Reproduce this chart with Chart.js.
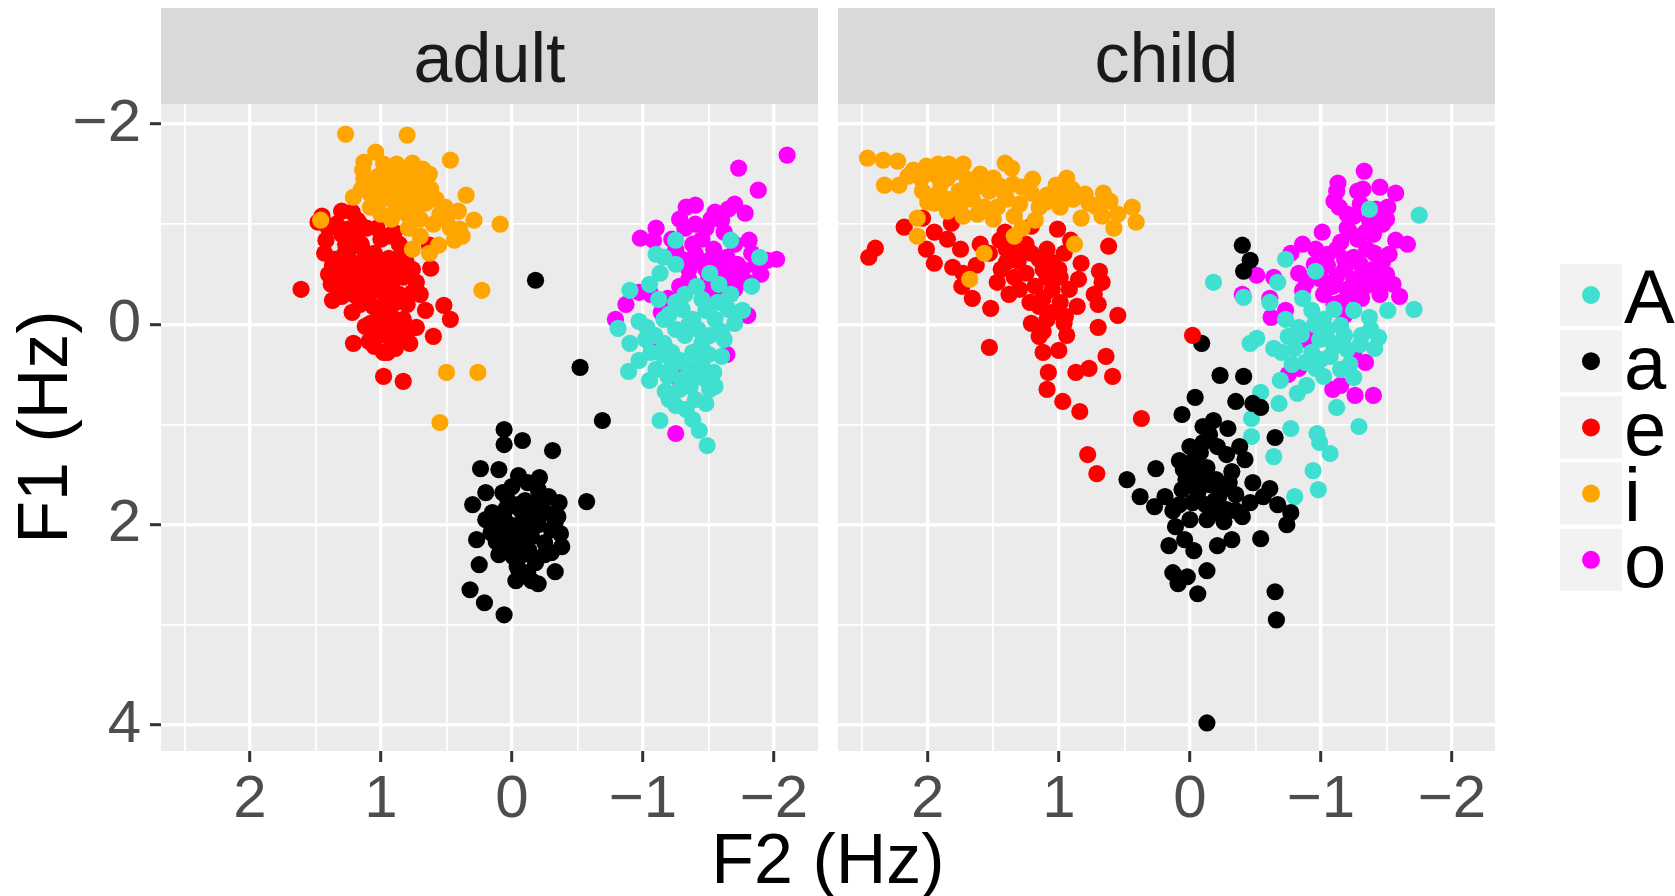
<!DOCTYPE html>
<html>
<head>
<meta charset="utf-8">
<script src="https://cdn.jsdelivr.net/npm/chart.js@4.4.1/dist/chart.umd.min.js"></script>
<style>
  body { margin: 0; background: #fff; }
  canvas { position: absolute; left: 0; top: 0; }
</style>
</head>
<body>
<canvas id="adult" width="1675" height="896"></canvas>
<canvas id="child" width="1675" height="896"></canvas>
<script>
'use strict';

// facets, vowels and colours
const facets = ['adult', 'child'];
const vowels = ['A', 'a', 'e', 'i', 'o'];
const vowelColors = ['#40E0D0', '#000000', '#FF0000', '#FFA500', '#FF00FF'];

// axis breaks: labelled majors, unlabelled minors
const xMajor = [2, 1, 0, -1, -2];
const xMinor = [2.5, 1.5, 0.5, -0.5, -1.5];
const yMajor = [-2, 0, 2, 4];
const yMinor = [-1, 1, 3];

// adult points [F2, F1]
const adult_A = [[-0.81,0.04],[-0.90,-0.34],[-0.90,0.19],[-0.89,0.47],[-1.05,0.56],[-1.13,0.96],[-1.25,0.81],[-1.43,1.06],[-1.49,1.21],[-1.48,0.79],[-1.51,0.65],[-1.17,0.67],[-1.19,0.52],[-1.25,-0.84],[-1.16,-0.67],[-1.13,-0.51],[-1.67,-0.84],[-0.97,-0.03],[-1.03,0.03],[-1.09,0.11],[-1.16,0.19],[-1.22,0.28],[-1.28,0.36],[-1.35,0.44],[-1.41,0.52],[-1.54,0.48],[-1.60,0.32],[-1.32,0.11],[-1.38,-0.05],[-1.48,-0.14],[-1.57,-0.22],[-1.67,-0.30],[-1.70,-0.01],[-1.76,-0.14],[-1.25,-0.22],[-1.32,-0.30],[-1.41,-0.38],[-1.51,-0.51],[-1.83,-0.38],[-1.89,-0.67],[-0.97,0.36],[-1.06,0.28],[-1.45,0.19],[-1.51,0.11],[-1.28,0.65],[-1.60,0.07],[-1.16,-0.05],[-1.38,0.28],
    [-1.15,0.30],[-1.22,0.42],[-1.30,0.55],[-1.36,0.62],[-1.45,0.40],[-1.50,0.30],[-1.42,0.05],[-1.35,0.00],[-1.25,0.05],[-1.20,-0.10],[-1.30,-0.15],[-1.45,-0.25],[-1.55,-0.05],[-1.62,0.15],[-1.40,0.75],[-1.33,0.85],[-1.20,0.75],[-1.10,0.45],[-1.02,0.15],[-1.12,-0.25],[-1.05,-0.40],[-1.58,-0.40],[-1.65,-0.15],[-1.48,0.55],[-1.55,0.62],[-1.38,0.95],[-1.10,-0.70],[-1.25,-0.60]];
const adult_a = [[-0.18,-0.44],[-0.52,0.43],[-0.69,0.96],[-0.57,1.77],[0.06,1.05],[0.06,1.20],[-0.08,1.16],[-0.31,1.26],[0.24,1.44],[0.10,1.45],[-0.05,1.51],[-0.21,1.53],[0.20,1.68],[0.30,1.80],[-0.20,1.65],[-0.36,1.78],[0.15,1.88],[0.03,1.76],[-0.07,1.86],[-0.17,1.93],[-0.26,1.88],[-0.33,1.97],[0.12,2.01],[-0.01,2.01],[-0.10,2.09],[0.03,2.13],[0.27,2.15],[0.12,2.17],[-0.37,2.09],[-0.38,2.22],[-0.25,2.30],[-0.13,2.26],[-0.01,2.32],[-0.04,2.42],[0.25,2.40],[-0.33,2.47],[-0.03,2.56],[-0.20,2.59],[-0.15,2.56],[0.32,2.65],[0.21,2.78],[0.06,2.90],[0.07,1.68],[-0.10,1.76],[0.06,1.93],[-0.20,1.76],[-0.13,1.97],[-0.04,2.17],[0.06,2.26],
    [-0.05,1.80],[0.05,1.85],[0.10,1.95],[-0.12,1.82],[-0.22,1.90],[-0.30,2.05],[-0.20,2.00],[-0.08,1.98],[0.02,2.05],[0.16,2.08],[0.08,2.10],[-0.15,2.12],[-0.25,2.18],[-0.30,2.28],[-0.18,2.38],[-0.08,2.30],[0.00,2.22],[0.10,2.30],[-0.05,2.45],[-0.12,2.48],[0.20,1.95],[-0.35,1.92],[-0.28,1.72],[0.00,1.62],[-0.12,1.58]];
const adult_e = [[1.61,-0.35],[1.45,-1.08],[1.48,-1.02],[1.30,-1.13],[1.22,-1.12],[1.07,-1.30],[1.40,-0.96],[1.34,-1.00],[1.42,-0.84],[1.43,-0.71],[1.37,-0.59],[1.34,-0.38],[1.37,-0.24],[1.22,-0.12],[1.21,0.19],[1.09,0.17],[0.98,0.52],[0.83,0.57],[0.95,0.28],[0.89,0.24],[0.78,0.19],[0.60,0.12],[0.47,-0.05],[0.52,-0.19],[0.66,-0.14],[0.76,-0.32],[0.62,-0.56],[0.63,-0.79],[0.81,-0.63],[0.86,-0.80],[0.90,-0.92],[1.03,-0.96],[1.11,-0.96],[1.18,-0.84],[1.24,-0.75],[1.14,-0.63],[1.05,-0.71],[0.98,-0.55],[1.08,-0.47],[1.18,-0.51],[1.27,-0.55],[1.21,-0.30],[1.11,-0.26],[1.02,-0.34],[0.92,-0.38],[0.83,-0.47],[0.73,-0.42],[0.89,-0.22],[0.98,-0.14],[1.08,-0.01],[0.95,0.03],[0.83,-0.05],[0.73,0.03],[1.02,0.11],[0.89,0.11],[1.27,-0.80],[1.18,-1.04],[0.95,-0.88],[0.76,-0.55],[0.89,-0.55],[1.30,-0.47],[0.70,-0.30],[0.83,0.11],[0.98,0.28],
    [1.30,-0.90],[1.25,-0.95],[1.20,-0.90],[1.15,-0.80],[1.28,-0.70],[1.35,-0.65],[1.30,-0.60],[1.22,-0.62],[1.12,-0.72],[1.08,-0.60],[1.02,-0.62],[0.94,-0.66],[0.90,-0.45],[0.96,-0.42],[1.04,-0.44],[1.12,-0.40],[1.20,-0.42],[1.26,-0.35],[1.30,-0.28],[1.16,-0.20],[1.06,-0.18],[0.96,-0.25],[0.86,-0.30],[0.80,-0.20],[0.92,-0.08],[1.02,-0.06],[1.12,0.02],[0.86,0.00],[0.78,0.05],[0.92,0.18],[1.05,0.22],[1.40,-0.50],[1.38,-0.40],[1.16,-1.00],[1.00,-0.85],[0.84,-0.70]];
const adult_i = [[1.27,-1.90],[0.80,-1.89],[1.04,-1.72],[1.13,-1.62],[1.14,-1.54],[0.98,-1.60],[0.90,-1.54],[0.76,-1.61],[0.47,-1.64],[0.63,-1.50],[1.13,-1.45],[1.02,-1.48],[0.86,-1.44],[0.76,-1.39],[0.70,-1.31],[0.35,-1.29],[1.21,-1.27],[0.95,-1.33],[0.82,-1.29],[0.66,-1.21],[0.51,-1.17],[0.41,-1.13],[0.29,-1.04],[0.09,-1.00],[0.47,-0.96],[0.38,-0.88],[0.44,-0.84],[0.56,-0.79],[0.70,-0.88],[0.79,-0.96],[0.89,-1.13],[1.08,-1.17],[0.23,-0.34],[0.50,0.48],[0.26,0.48],[0.55,0.98],[1.46,-1.04],[0.76,-0.75],[0.63,-0.71],[0.95,-1.50],[0.88,-1.35],[0.75,-1.25],[0.85,-1.20],[0.92,-1.05],[1.00,-1.10],[0.70,-1.05],[0.60,-1.00],[0.55,-1.10],[0.80,-1.10],
    [0.98,-1.40],[1.05,-1.35],[0.72,-1.45],[0.68,-1.55],[0.82,-1.52],[0.92,-1.25],[1.08,-1.30],[1.15,-1.35],[0.62,-1.35],[0.58,-1.25],[0.50,-1.05],[0.40,-0.95],[0.72,-1.18],[1.02,-1.22],[0.88,-1.60]];
const adult_o = [[-2.10,-1.69],[-1.73,-1.56],[-1.88,-1.34],[-1.33,-1.17],[-1.40,-1.19],[-1.65,-1.15],[-1.78,-1.11],[-1.60,-1.04],[-1.10,-0.96],[-0.98,-0.86],[-1.08,-0.84],[-1.32,-0.96],[-1.48,-0.96],[-1.81,-0.84],[-1.25,-0.75],[-1.38,-0.80],[-1.54,-0.75],[-1.64,-0.67],[-1.95,-0.64],[-2.02,-0.65],[-1.86,-0.59],[-1.76,-0.55],[-1.67,-0.47],[-1.48,-0.55],[-1.35,-0.55],[-1.57,-0.38],[-1.45,-0.34],[-1.28,-0.38],[-0.97,-0.32],[-1.06,-0.30],[-1.19,-0.26],[-0.87,-0.20],[-0.79,-0.05],[-1.14,-0.12],[-1.80,-0.09],[-1.64,0.30],[-1.45,0.52],[-1.25,0.52],[-1.25,1.09],[-1.06,0.19],[-1.73,-0.47],[-1.45,-0.63],[-1.83,-0.71],[-1.54,-0.26],
    [-1.40,-1.00],[-1.52,-1.05],[-1.62,-0.92],[-1.70,-0.80],[-1.72,-0.60],[-1.60,-0.58],[-1.52,-0.65],[-1.40,-0.70],[-1.30,-0.65],[-1.22,-0.85],[-1.35,-0.45],[-1.62,-0.50],[-1.80,-0.42],[-1.90,-0.50],[-1.70,-0.35],[-1.50,-0.45],[-1.45,-0.85],[-1.55,-1.12],[-1.70,-1.20],[-1.28,-1.05]];

// child points [F2, F1]
const child_A = [[-0.18,-0.42],[-0.41,-0.27],[-0.46,0.19],[-0.51,0.14],[-0.54,0.68],[-0.47,0.94],[-0.47,1.12],[-0.64,1.32],[-0.68,0.79],[-0.77,1.04],[-0.80,1.72],[-0.94,1.46],[-0.98,1.65],[-0.97,1.09],[-0.99,1.18],[-1.07,1.29],[-1.29,1.02],[-1.12,0.83],[-1.25,0.53],[-0.69,0.56],[-0.82,0.69],[-0.89,0.61],[-0.64,0.24],[-0.70,0.28],[-0.80,0.24],[-0.93,0.28],[-0.99,0.15],[-1.09,0.19],[-1.07,0.32],[-0.96,0.44],[-1.18,0.11],[-1.31,0.11],[-1.44,0.13],[-1.41,0.24],[-1.37,-0.07],[-1.51,-0.14],[-1.71,-0.15],[-1.75,-1.09],[-1.37,-1.15],[-0.73,-0.65],[-0.96,-0.53],[-0.67,-0.42],[-0.61,-0.22],[-0.73,-0.05],[-0.83,0.03],[-0.93,-0.14],[-1.02,-0.05],[-1.15,0.01],[-1.25,-0.14],[-0.86,-0.26],
    [-0.85,0.10],[-0.95,0.00],[-1.05,0.05],[-1.10,0.22],[-1.20,0.25],[-1.30,0.20],[-1.22,0.40],[-1.00,0.35],[-0.88,0.38],[-0.78,0.40],[-1.10,-0.15],[-1.38,0.05],[-0.75,0.12],[-1.02,0.52],[-1.15,0.45]];
const child_a = [[-0.40,-0.79],[-0.46,-0.64],[-0.41,-0.53],[-0.09,0.19],[-0.23,0.51],[-0.41,0.52],[-0.04,0.73],[0.06,0.90],[-0.35,0.77],[-0.48,0.79],[-0.54,0.83],[-0.18,0.96],[-0.10,1.02],[-0.29,1.04],[-0.65,1.13],[-0.10,1.18],[-0.21,1.22],[-0.38,1.22],[0.08,1.36],[0.26,1.44],[0.48,1.55],[0.38,1.72],[-0.03,1.35],[-0.13,1.43],[-0.42,1.35],[-0.32,1.47],[0.03,1.55],[-0.06,1.68],[-0.26,1.64],[-0.48,1.58],[-0.61,1.64],[0.19,1.72],[0.27,1.82],[0.13,1.86],[0.00,1.95],[-0.13,1.95],[-0.26,1.97],[-0.35,1.86],[-0.46,1.78],[-0.56,1.72],[-0.67,1.80],[-0.77,1.88],[-0.74,2.00],[0.11,2.02],[0.16,2.21],[0.04,2.15],[-0.03,2.26],[-0.21,2.21],[-0.32,2.15],[-0.54,2.14],[0.13,2.48],[0.02,2.52],[0.09,2.59],[-0.13,2.46],[-0.06,2.69],[-0.65,2.67],[-0.66,2.95],[-0.13,3.98],[-0.06,1.51],[-0.19,1.76],
    [-0.02,1.40],[0.05,1.45],[-0.10,1.50],[-0.15,1.60],[-0.05,1.62],[0.06,1.65],[-0.20,1.55],[-0.30,1.58],[-0.35,1.70],[-0.22,1.72],[-0.12,1.80],[-0.02,1.78],[0.08,1.80],[-0.40,1.92],[-0.28,1.85],[-0.18,1.88],[-0.08,1.28],[-0.28,1.30],[-0.15,1.10],[0.00,1.22]];
const child_e = [[2.45,-0.67],[2.40,-0.76],[2.18,-0.97],[2.04,-1.06],[1.95,-0.92],[1.82,-1.01],[2.01,-0.75],[1.95,-0.61],[1.81,-0.57],[1.73,-0.51],[1.74,-0.38],[1.66,-0.26],[1.52,-0.16],[1.53,0.23],[1.63,-0.59],[1.53,-0.71],[1.45,-0.84],[1.37,-0.84],[1.41,-0.92],[1.21,-0.98],[1.01,-0.95],[0.91,-0.84],[0.96,-0.71],[1.09,-0.75],[1.21,-0.71],[1.31,-0.63],[1.44,-0.55],[1.47,-0.42],[1.34,-0.47],[1.25,-0.51],[1.18,-0.38],[1.09,-0.47],[0.99,-0.47],[0.83,-0.61],[0.69,-0.53],[0.67,-0.42],[0.62,-0.78],[0.73,-0.30],[0.70,-0.20],[0.86,-0.18],[0.99,-0.22],[1.12,-0.26],[1.15,-0.18],[1.21,-0.01],[1.09,-0.05],[0.96,-0.01],[0.94,0.11],[1.12,0.07],[1.12,0.28],[1.00,0.26],[0.70,0.03],[0.55,-0.09],[1.08,0.48],[1.09,0.65],[0.97,0.77],[0.84,0.87],[0.87,0.48],[0.77,0.44],[0.64,0.32],[0.59,0.52],[0.37,0.94],[-0.02,0.11],[0.78,1.30],[0.71,1.49],
    [1.40,-0.75],[1.32,-0.72],[1.25,-0.80],[1.15,-0.65],[1.05,-0.62],[1.00,-0.55],[1.12,-0.55],[1.40,-0.62],[1.38,-0.30],[1.30,-0.35],[1.22,-0.22],[1.05,-0.35],[0.92,-0.35],[0.85,-0.45],[1.05,-0.12],[0.95,-0.08],[1.15,0.12],[1.60,-0.80],[1.75,-0.75],[1.85,-0.85]];
const child_i = [[2.46,-1.66],[2.34,-1.64],[2.23,-1.63],[2.33,-1.39],[2.22,-1.39],[2.11,-1.54],[2.01,-1.58],[1.92,-1.60],[1.84,-1.60],[1.73,-1.60],[2.04,-1.33],[1.92,-1.31],[2.08,-1.06],[2.08,-0.88],[1.85,-1.46],[1.76,-1.33],[1.66,-1.25],[1.60,-1.50],[1.50,-1.46],[1.41,-1.61],[1.36,-1.56],[1.57,-1.17],[1.47,-1.17],[1.73,-1.08],[1.85,-1.13],[1.41,-1.29],[1.28,-1.37],[1.21,-1.31],[1.34,-1.08],[1.28,-0.96],[1.15,-1.17],[1.09,-1.29],[1.02,-1.39],[0.94,-1.46],[0.99,-1.17],[0.89,-1.25],[0.83,-1.06],[0.77,-1.21],[0.66,-1.31],[0.61,-1.23],[0.67,-1.08],[0.58,-0.96],[0.44,-1.17],[0.41,-1.02],[0.88,-0.80],[1.68,-0.45],[1.57,-0.71],[1.95,-1.21],[1.63,-1.37],[1.53,-1.33],[1.18,-1.04],[1.34,-0.88],
    [2.15,-1.48],[2.05,-1.45],[1.95,-1.50],[1.90,-1.40],[1.80,-1.52],[1.70,-1.45],[1.65,-1.38],[1.55,-1.42],[1.45,-1.38],[1.40,-1.25],[1.30,-1.20],[1.20,-1.45],[1.10,-1.22],[1.00,-1.30],[0.90,-1.35],[0.80,-1.30],[1.75,-1.20],[1.85,-1.25],[2.00,-1.22],[1.62,-1.10],[1.50,-1.05],[1.35,-1.40],[0.72,-1.18],[0.55,-1.10]];
const child_o = [[-1.33,-1.53],[-1.13,-1.41],[-1.12,-1.33],[-1.28,-1.33],[-1.45,-1.37],[-1.57,-1.31],[-1.51,-1.17],[-1.10,-1.23],[-1.14,-1.17],[-1.25,-1.08],[-1.37,-1.04],[-1.47,-1.00],[-1.20,-0.96],[-1.34,-0.92],[-1.01,-0.92],[-1.57,-0.84],[-1.66,-0.80],[-0.86,-0.80],[-0.77,-0.71],[-0.96,-0.75],[-1.12,-0.75],[-1.25,-0.67],[-1.41,-0.71],[-1.47,-0.63],[-1.05,-0.59],[-1.18,-0.55],[-1.34,-0.51],[-0.83,-0.51],[-0.89,-0.42],[-0.86,-0.34],[-0.51,-0.49],[-0.64,-0.47],[-0.40,-0.30],[-0.61,-0.26],[-0.73,-0.14],[-0.62,-0.07],[-1.02,-0.30],[-1.15,-0.22],[-1.31,-0.26],[-1.44,-0.38],[-1.55,-0.40],[-1.60,-0.28],[-1.18,-0.09],[-0.93,0.07],[-0.88,0.15],[-1.25,0.28],[-1.34,0.38],[-0.83,0.44],[-0.75,0.50],[-1.09,0.65],[-1.15,0.61],[-1.26,0.71],[-1.40,0.71],[-1.34,-0.38],[-1.09,-0.38],
    [-1.20,-1.10],[-1.30,-1.20],[-1.42,-1.15],[-1.50,-1.05],[-1.40,-0.90],[-1.28,-0.85],[-1.15,-0.82],[-1.05,-0.70],[-1.18,-0.65],[-1.30,-0.60],[-1.40,-0.55],[-1.52,-0.70],[-1.50,-0.50],[-1.40,-0.42],[-1.25,-0.45],[-1.12,-0.48],[-1.00,-0.45],[-0.95,-0.60],[-1.35,-0.75],[-1.22,-0.92],[-1.45,-0.30],[-1.25,-0.30],[-1.10,-0.20],[-1.20,-0.35],[-1.32,-1.35]];

const FONT = '"Liberation Sans", Arial, Helvetica, sans-serif';

function fmt(v) {
    return v < 0 ? '\u2212' + Math.abs(v) : String(v);
}

// panel background, strip, titles and legend
const facetDecor = {
    id: 'facetDecor',
    beforeDraw(chart, args, opts) {
        const ctx = chart.ctx;
        const a = chart.chartArea;
        ctx.save();
        ctx.fillStyle = '#EBEBEB';
        ctx.fillRect(a.left, a.top, a.right - a.left, a.bottom - a.top);
        ctx.fillStyle = '#D9D9D9';
        ctx.fillRect(a.left, 8, a.right - a.left, a.top - 8);
        ctx.fillStyle = '#1A1A1A';
        ctx.font = '70px ' + FONT;
        ctx.textAlign = 'center';
        ctx.textBaseline = 'alphabetic';
        ctx.fillText(opts.strip, (a.left + a.right) / 2, 82);
        ctx.restore();
    },
    afterDraw(chart, args, opts) {
        const ctx = chart.ctx;
        ctx.save();
        if (opts.titles) {
            ctx.fillStyle = '#000000';
            ctx.font = '70px ' + FONT;
            ctx.textAlign = 'center';
            ctx.textBaseline = 'alphabetic';
            ctx.fillText('F2 (Hz)', 828, 883);
            ctx.translate(67, 427);
            ctx.rotate(-Math.PI / 2);
            ctx.fillText('F1 (Hz)', 0, 0);
            ctx.setTransform(1, 0, 0, 1, 0, 0);
        }
        if (opts.legend) {
            vowels.forEach((v, i) => {
                const top = 264 + i * 66.2;
                ctx.fillStyle = '#F2F2F2';
                ctx.fillRect(1560, top, 62, 62);
                ctx.fillStyle = vowelColors[i];
                ctx.beginPath();
                ctx.arc(1591, top + 31, 9, 0, Math.PI * 2);
                ctx.fill();
                ctx.fillStyle = '#000000';
                ctx.font = '76px ' + FONT;
                ctx.textAlign = 'left';
                ctx.textBaseline = 'alphabetic';
                ctx.fillText(v, 1624, top + 58.5);
            });
        }
        ctx.restore();
    }
};

function axisStyle(major) {
    const isMajor = c => c.tick && major.includes(c.tick.value);
    return {
        grid: {
            color: '#FFFFFF',
            lineWidth: c => isMajor(c) ? 3.4 : 1.7,
            tickColor: c => isMajor(c) ? '#333333' : 'rgba(0,0,0,0)',
            tickWidth: 3,
            tickLength: 11
        },
        label: v => major.includes(v) ? fmt(v) : ''
    };
}

function createPanel(canvasId, name, sets, padding, showY, decor) {
    const datasets = sets.map(s => ({
        label: s.label,
        data: s.points.map(p => ({ x: p[0], y: p[1] })),
        backgroundColor: s.color,
        borderWidth: 0,
        pointRadius: 8.6,
        pointHoverRadius: 8.6
    }));
    const xs = axisStyle(xMajor);
    const ys = axisStyle(yMajor);
    new Chart(document.getElementById(canvasId).getContext('2d'), {
        type: 'scatter',
        data: { datasets: datasets },
        options: {
            responsive: false,
            animation: false,
            events: [],
            layout: { padding: padding },
            plugins: {
                legend: { display: false },
                tooltip: { enabled: false },
                facetDecor: decor
            },
            scales: {
                x: {
                    type: 'linear',
                    reverse: true,
                    min: name === 'adult' ? -2.336 : -2.328,
                    max: name === 'adult' ? 2.679 : 2.685,
                    afterBuildTicks: s => { s.ticks = xMajor.concat(xMinor).map(v => ({ value: v })); },
                    afterFit: s => { s.height = 145; },
                    border: { display: false },
                    grid: xs.grid,
                    ticks: {
                        autoSkip: false, maxRotation: 0, minRotation: 0,
                        color: '#4D4D4D', font: { family: FONT, size: 60 }, padding: 2,
                        callback: xs.label
                    }
                },
                y: {
                    type: 'linear',
                    reverse: true,
                    min: -2.2,
                    max: 4.26,
                    afterBuildTicks: s => { s.ticks = yMajor.concat(yMinor).map(v => ({ value: v })); },
                    afterFit: s => { s.width = showY ? 161 : 0; },
                    border: { display: false },
                    grid: Object.assign({}, ys.grid, { drawTicks: showY }),
                    ticks: {
                        display: showY, autoSkip: false,
                        color: '#4D4D4D', font: { family: FONT, size: 60 }, padding: 9,
                        callback: ys.label
                    }
                }
            }
        },
        plugins: [facetDecor]
    });
}

// draw order: i, e, a, A, o
function groupSets(g) {
    return [
        { label: 'i', points: g.i, color: vowelColors[3] },
        { label: 'e', points: g.e, color: vowelColors[2] },
        { label: 'a', points: g.a, color: vowelColors[1] },
        { label: 'A', points: g.A, color: vowelColors[0] },
        { label: 'o', points: g.o, color: vowelColors[4] }
    ];
}

createPanel('adult', facets[0],
    groupSets({ A: adult_A, a: adult_a, e: adult_e, i: adult_i, o: adult_o }),
    { top: 104, left: 0, right: 1675 - 818, bottom: 0 }, true,
    { strip: facets[0], titles: true });

createPanel('child', facets[1],
    groupSets({ A: child_A, a: child_a, e: child_e, i: child_i, o: child_o }),
    { top: 104, left: 838, right: 1675 - 1495, bottom: 0 }, false,
    { strip: facets[1], legend: true });
</script>
</body>
</html>
